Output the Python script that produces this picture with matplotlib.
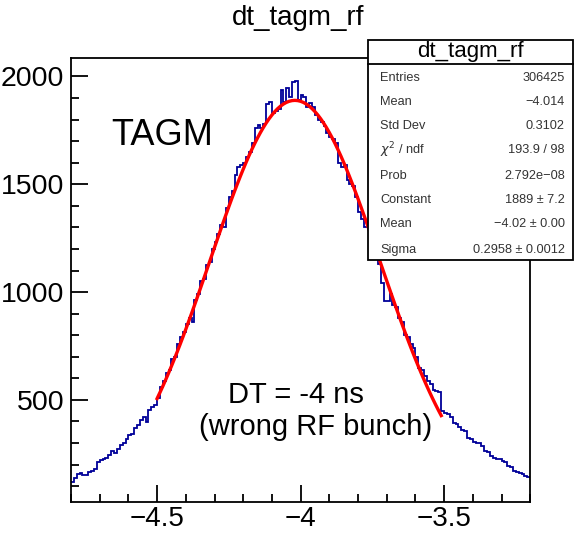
import numpy as np
import matplotlib
matplotlib.use("Agg")
import matplotlib.pyplot as plt
from matplotlib.patches import Rectangle
from matplotlib.ticker import MultipleLocator

plt.rcParams['font.family'] = ['Liberation Sans', 'DejaVu Sans']

# histogram dt_tagm_rf, 160 bins of 0.01 ns from -4.8 to -3.2
x_low = -4.8
bin_width = 0.01
counts = [
    120, 140, 158, 160, 150, 152, 165, 172, 178, 210,
    220, 224, 230, 245, 262, 255, 272, 290, 298, 318,
    335, 342, 370, 382, 405, 422, 398, 452, 468, 478,
    510, 560, 590, 625, 640, 690, 700, 760, 790, 815,
    850, 880, 860, 965, 990, 1050, 1060, 1125, 1140, 1200,
    1230, 1270, 1310, 1300, 1390, 1440, 1470, 1545, 1580, 1590,
    1600, 1625, 1650, 1690, 1760, 1775, 1760, 1780, 1870, 1880,
    1830, 1840, 1850, 1935, 1880, 1945, 1905, 1975, 1980, 1890,
    1915, 1905, 1860, 1875, 1860, 1820, 1800, 1790, 1770, 1740,
    1720, 1710, 1690, 1600, 1580, 1590, 1520, 1500, 1490, 1440,
    1370, 1340, 1300, 1300, 1250, 1230, 1180, 1130, 1040, 960,
    960, 990, 940, 930, 880, 860, 800, 790, 760, 740,
    700, 650, 640, 610, 590, 575, 548, 540, 535, 450,
    440, 436, 420, 392, 388, 375, 362, 358, 325, 318,
    306, 300, 298, 285, 262, 258, 240, 230, 226, 224,
    216, 212, 195, 188, 170, 166, 162, 158, 146, 142,
]

# gaus fit results from the stats box
fit_const = 1889
fit_mean = -4.02
fit_sigma = 0.2958
fit_range = (-4.5, -3.51)

stats_labels = ["Entries", "Mean", "Std Dev", r"$\chi^{2}$ / ndf", "Prob",
                "Constant", "Mean", "Sigma"]
stats_values = ["306425", "\u22124.014", "0.3102", "193.9 / 98", "2.792e\u221208",
                "1889 \u00b1 7.2", "\u22124.02 \u00b1 0.00", "0.2958 \u00b1 0.0012"]

fig = plt.figure(figsize=(5.74, 5.36), dpi=100)
ax = fig.add_axes([0.1237, 0.064, 0.8, 0.828])

edges = x_low + bin_width * np.arange(len(counts) + 1)
ax.stairs(counts, edges, color="#000099", linewidth=1.3, baseline=None)

xf = np.linspace(fit_range[0], fit_range[1], 100)
yf = fit_const * np.exp(-0.5 * ((xf - fit_mean) / fit_sigma) ** 2)
ax.plot(xf, yf, color="#ff0000", linewidth=2.4)

ax.set_xlim(-4.8, -3.2)
ax.set_ylim(28, 2086)
ax.xaxis.set_major_locator(MultipleLocator(0.5))
ax.xaxis.set_minor_locator(MultipleLocator(0.1))
ax.yaxis.set_major_locator(MultipleLocator(500))
ax.yaxis.set_minor_locator(MultipleLocator(100))
ax.xaxis.set_major_formatter(matplotlib.ticker.FuncFormatter(
    lambda v, p: ("%g" % v).replace("-", "\u2212")))
ax.tick_params(which="major", direction="in", length=12, width=1.3,
               top=False, right=False)
ax.tick_params(which="minor", direction="in", length=6, width=1.3,
               top=False, right=False)
ax.tick_params(axis="x", pad=3, labelsize=20)
ax.tick_params(axis="y", pad=5, labelsize=20.5)
for s in ax.spines.values():
    s.set_linewidth(1.3)

ax.text(-4.66, 1680, "TAGM", fontsize=26)
fig.text(0.515, 0.249, "DT = -4 ns", fontsize=21, ha="center", va="baseline")
fig.text(0.55, 0.188, "(wrong RF bunch)", fontsize=21, ha="center", va="baseline")

fig.text(0.52, 0.966, "dt_tagm_rf", fontsize=20, ha="center", va="center")

# stats box
bx0, bx1 = 368 / 574, 573 / 574
by0, by1 = 1 - 260 / 536, 1 - 40 / 536
fig.patches.append(Rectangle((bx0, by0), bx1 - bx0, by1 - by0, transform=fig.transFigure,
                             facecolor="white", edgecolor="black", linewidth=1.3, zorder=5))
sep = 1 - 64 / 536
fig.add_artist(plt.Line2D([bx0, bx1], [sep, sep], transform=fig.transFigure,
                          color="black", linewidth=1.3, zorder=6))
fig.text((bx0 + bx1) / 2, 1 - 52 / 536, "dt_tagm_rf", fontsize=16,
         ha="center", va="center", zorder=7)
row_y = [78, 102, 126, 150, 176, 200, 224, 250]
for lab, val, ypx in zip(stats_labels, stats_values, row_y):
    fig.text(380 / 574, 1 - ypx / 536, lab, fontsize=9.2, ha="left", va="center",
             color="#333333", zorder=7)
    fig.text(565 / 574, 1 - ypx / 536, val, fontsize=9.2, ha="right", va="center",
             color="#333333", zorder=7)

fig.savefig("out.png", dpi=100)
